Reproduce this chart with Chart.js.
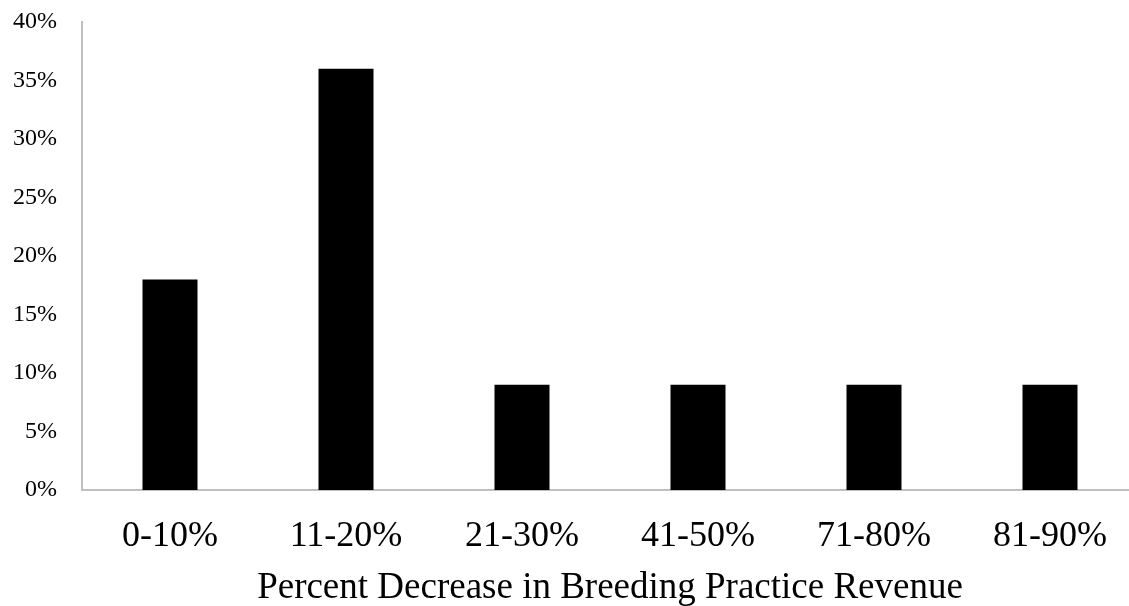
<!DOCTYPE html>
<html>
<head>
<meta charset="utf-8">
<script src="https://cdn.jsdelivr.net/npm/chart.js@4"></script>
<style>
  html, body { margin: 0; padding: 0; background: #fff; }
  #wrap { width: 1129px; height: 606px; }
</style>
</head>
<body>
<div id="wrap"><canvas id="revenueChart" width="1129" height="606"></canvas></div>
<script>
// categories and values
var categories = ['0-10%', '11-20%', '21-30%', '41-50%', '71-80%', '81-90%'];
var shares = [18, 36, 9, 9, 9, 9];
var yTicks = [0, 5, 10, 15, 20, 25, 30, 35, 40];
var xTitle = 'Percent Decrease in Breeding Practice Revenue';

// the plot area of the original runs a little past the right edge of the picture
var stretchX = {
    id: 'stretchX',
    afterLayout: function(chart) {
        var x = chart.scales.x;
        x.right = x.left + 1056;
        x.width = 1056;
        x.configure();
    }
};

var ctx = document.getElementById('revenueChart').getContext('2d');
var revenueChart = new Chart(ctx, {
    type: 'bar',
    data: {
        labels: categories,
        datasets: [{
            data: shares,
            backgroundColor: '#000000',
            borderWidth: 0,
            categoryPercentage: 1,
            barPercentage: 0.3125
        }]
    },
    plugins: [stretchX],
    options: {
        responsive: false,
        animation: false,
        layout: {
            padding: { top: 22, right: 0, left: 12, bottom: 2 }
        },
        plugins: {
            legend: { display: false },
            tooltip: { enabled: false }
        },
        scales: {
            x: {
                // fix the axis box so the plot area lands where the picture has it
                afterFit: function(scale) {
                    scale.height = 114;
                    scale.paddingLeft = 0;
                    scale.paddingRight = 0;
                },
                grid: { display: false, drawTicks: false },
                border: { color: '#bfbfbf', width: 2 },
                ticks: {
                    color: '#000',
                    padding: 25,
                    font: { family: 'Liberation Serif', size: 36 }
                },
                title: {
                    display: true,
                    text: xTitle,
                    color: '#000',
                    padding: { top: 0, bottom: -6 },
                    font: { family: 'Liberation Serif', size: 37 }
                }
            },
            y: {
                min: 0,
                max: 40,
                afterBuildTicks: function(scale) {
                    scale.ticks = yTicks.map(function(v) { return { value: v }; });
                },
                afterFit: function(scale) {
                    scale.width = 70;
                    scale.paddingTop = 0;
                    scale.paddingBottom = 0;
                },
                grid: { display: false, drawTicks: false },
                border: { color: '#bfbfbf', width: 2 },
                ticks: {
                    color: '#000',
                    padding: 25,
                    font: { family: 'Liberation Serif', size: 24 },
                    callback: function(value) { return value + '%'; }
                }
            }
        }
    }
});
</script>
</body>
</html>
